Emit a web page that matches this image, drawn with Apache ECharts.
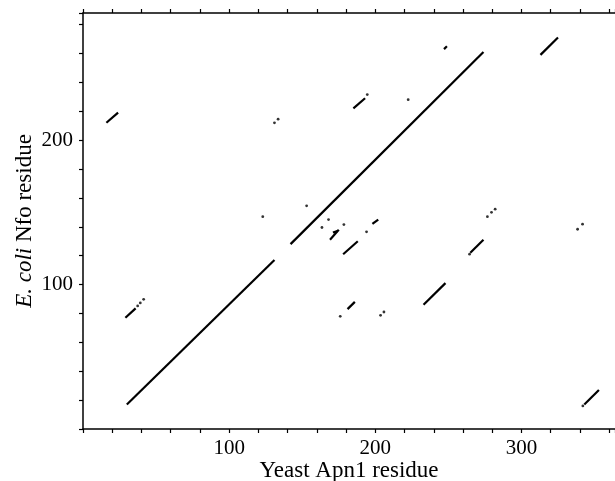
<!DOCTYPE html>
<html>
<head>
<meta charset="utf-8">
<script src="https://cdn.jsdelivr.net/npm/echarts@6/dist/echarts.min.js"></script>
<style>html,body{margin:0;padding:0;background:#fff}#c{width:615px;height:481px}</style>
</head>
<body>
<div id="c"></div>
<script>
// Dot-plot data (Yeast Apn1 residue vs E. coli Nfo residue)
const mainDiagonal = [[30, 17, 131, 117], [142, 128, 274, 261]];
const segments = [
  [16, 212, 24, 219],
  [185, 222, 193, 229],
  [313, 259, 325, 271],
  [247, 263, 249, 265],
  [169, 131, 175, 138],
  [171, 136, 174, 137],
  [178, 121, 188, 130],
  [198, 142, 202, 145],
  [265, 122, 274, 131],
  [233, 86, 248, 101],
  [181, 83, 186, 88],
  [29, 77, 36, 83.5],
  [343, 17, 353, 27]
];
const dots = [
  [131, 212], [133.5, 214.5], [123, 147], [153, 154.5], [168, 145],
  [163.5, 139.5], [178.5, 141.5], [194, 136.5], [194.5, 231.5], [222.5, 228],
  [37.4, 85.2], [39.2, 87.3], [41.5, 89.8], [176, 78], [203.6, 78.7],
  [205.9, 81], [276.7, 147], [279.5, 150], [282, 152.2], [338.4, 138.3],
  [341.8, 141.8], [264.5, 121], [342, 16]
];
const xLabels = [100, 200, 300];
const yLabels = [100, 200];

const font = 'Liberation Serif';
const segData = mainDiagonal.concat(segments).map(s => ({ coords: [[s[0], s[1]], [s[2], s[3]]] }));

const axisCommon = {
  type: 'value',
  interval: 20,
  axisLine: { show: true, lineStyle: { color: '#000', width: 1.5 } },
  axisTick: { show: true, length: 4, lineStyle: { color: '#000', width: 1.2 } },
  splitLine: { show: false }
};

const chart = echarts.init(document.getElementById('c'), null, { renderer: 'canvas' });
chart.setOption({
  animation: false,
  backgroundColor: '#fff',
  grid: { left: 83, right: 0, top: 13, bottom: 52, containLabel: false, outerBoundsMode: 'none' },
  xAxis: [
    Object.assign({}, axisCommon, {
      min: 0, max: 364, position: 'bottom',
      name: 'Yeast Apn1 residue', nameLocation: 'middle', nameGap: 30, nameMoveOverlap: false,
      nameTextStyle: { fontFamily: font, fontSize: 23, color: '#000', verticalAlign: 'top' },
      axisLabel: {
        fontFamily: font, fontSize: 21, color: '#000', margin: 9,
        formatter: v => (xLabels.indexOf(v) >= 0 ? String(v) : '')
      }
    }),
    Object.assign({}, axisCommon, {
      min: 0, max: 364, position: 'top', axisLabel: { show: false }
    })
  ],
  yAxis: [
    Object.assign({}, axisCommon, {
      min: 0, max: 288, position: 'left',
      name: '{i|E. coli} Nfo residue', nameLocation: 'middle', nameGap: 47, nameMoveOverlap: false,
      nameTextStyle: {
        fontFamily: font, fontSize: 23, color: '#000',
        rich: { i: { fontFamily: font, fontSize: 23, fontStyle: 'italic', color: '#000' } }
      },
      axisLabel: {
        fontFamily: font, fontSize: 21, color: '#000', margin: 10,
        formatter: v => (yLabels.indexOf(v) >= 0 ? String(v) : '')
      }
    })
  ],
  series: [
    {
      type: 'lines', coordinateSystem: 'cartesian2d', xAxisIndex: 0, yAxisIndex: 0,
      silent: true, polyline: false,
      lineStyle: { color: '#000', width: 2.2, opacity: 1 },
      data: segData
    },
    {
      type: 'scatter', xAxisIndex: 0, yAxisIndex: 0, silent: true,
      symbol: 'circle', symbolSize: 2.8,
      itemStyle: { color: '#000' },
      data: dots
    }
  ]
});
</script>
</body>
</html>
